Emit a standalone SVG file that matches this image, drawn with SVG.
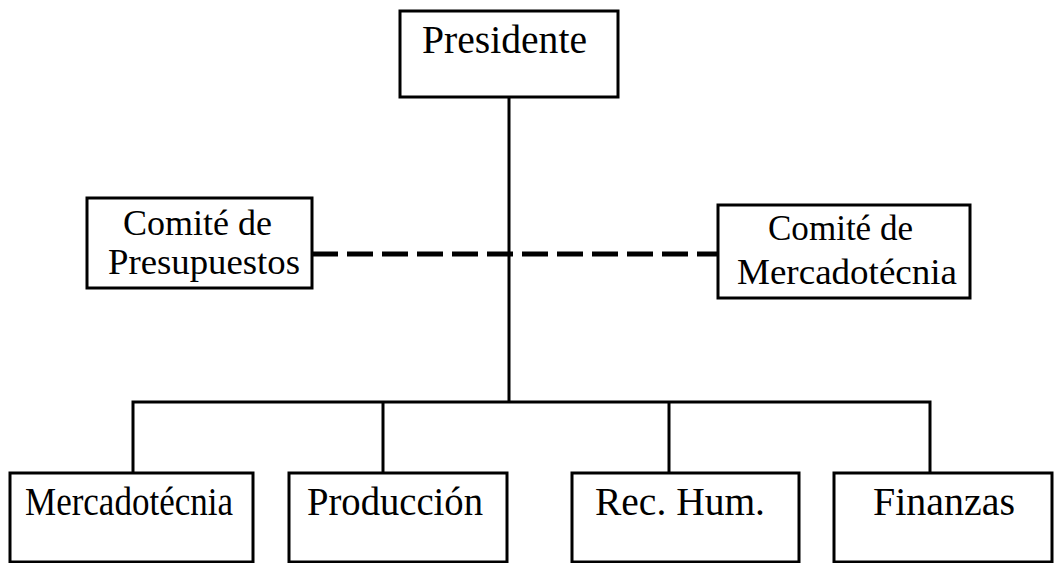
<svg xmlns="http://www.w3.org/2000/svg" width="1054" height="563" viewBox="0 0 1054 563">
<style>
.box{fill:#fff;stroke:#000;stroke-width:3}
.ln{fill:none;stroke:#000;stroke-width:3}
.dash{fill:none;stroke:#000;stroke-width:5;stroke-dasharray:26 9}
text{font-family:"Liberation Serif","Times New Roman",serif;font-size:39px;fill:#000}
text.two{font-size:36px}
</style>
<rect width="1054" height="563" fill="#fff"/>
<g id="connectors">
<line class="ln" x1="509" y1="97" x2="509" y2="402"/>
<line class="dash" x1="312" y1="254" x2="718" y2="254"/>
<polyline class="ln" points="133,473 133,402 930,402 930,473"/>
<line class="ln" x1="383" y1="402" x2="383" y2="473"/>
<line class="ln" x1="669" y1="402" x2="669" y2="473"/>
</g>
<g id="presidente">
<rect class="box" x="400" y="11" width="218" height="86"/>
<text x="422" y="53" textLength="165" lengthAdjust="spacingAndGlyphs">Presidente</text>
</g>
<g id="comite-presupuestos">
<rect class="box" x="87" y="198" width="225" height="90"/>
<text class="two" x="123" y="235" textLength="149" lengthAdjust="spacingAndGlyphs">Comité de</text>
<text class="two" x="108" y="274" textLength="192" lengthAdjust="spacingAndGlyphs">Presupuestos</text>
</g>
<g id="comite-mercadotecnia">
<rect class="box" x="718" y="205" width="252" height="93"/>
<text class="two" x="768" y="240" textLength="145" lengthAdjust="spacingAndGlyphs">Comité de</text>
<text class="two" x="737" y="284" textLength="220" lengthAdjust="spacingAndGlyphs">Mercadotécnia</text>
</g>
<g id="mercadotecnia">
<rect class="box" x="10" y="473" width="243" height="89"/>
<text x="25" y="515" textLength="208" lengthAdjust="spacingAndGlyphs">Mercadotécnia</text>
</g>
<g id="produccion">
<rect class="box" x="289" y="473" width="218" height="89"/>
<text x="307" y="515" textLength="176" lengthAdjust="spacingAndGlyphs">Producción</text>
</g>
<g id="rec-hum">
<rect class="box" x="572" y="473" width="227" height="89"/>
<text x="595" y="515" textLength="170" lengthAdjust="spacingAndGlyphs">Rec. Hum.</text>
</g>
<g id="finanzas">
<rect class="box" x="834" y="473" width="218" height="89"/>
<text x="873" y="515" textLength="142" lengthAdjust="spacingAndGlyphs">Finanzas</text>
</g>
</svg>
